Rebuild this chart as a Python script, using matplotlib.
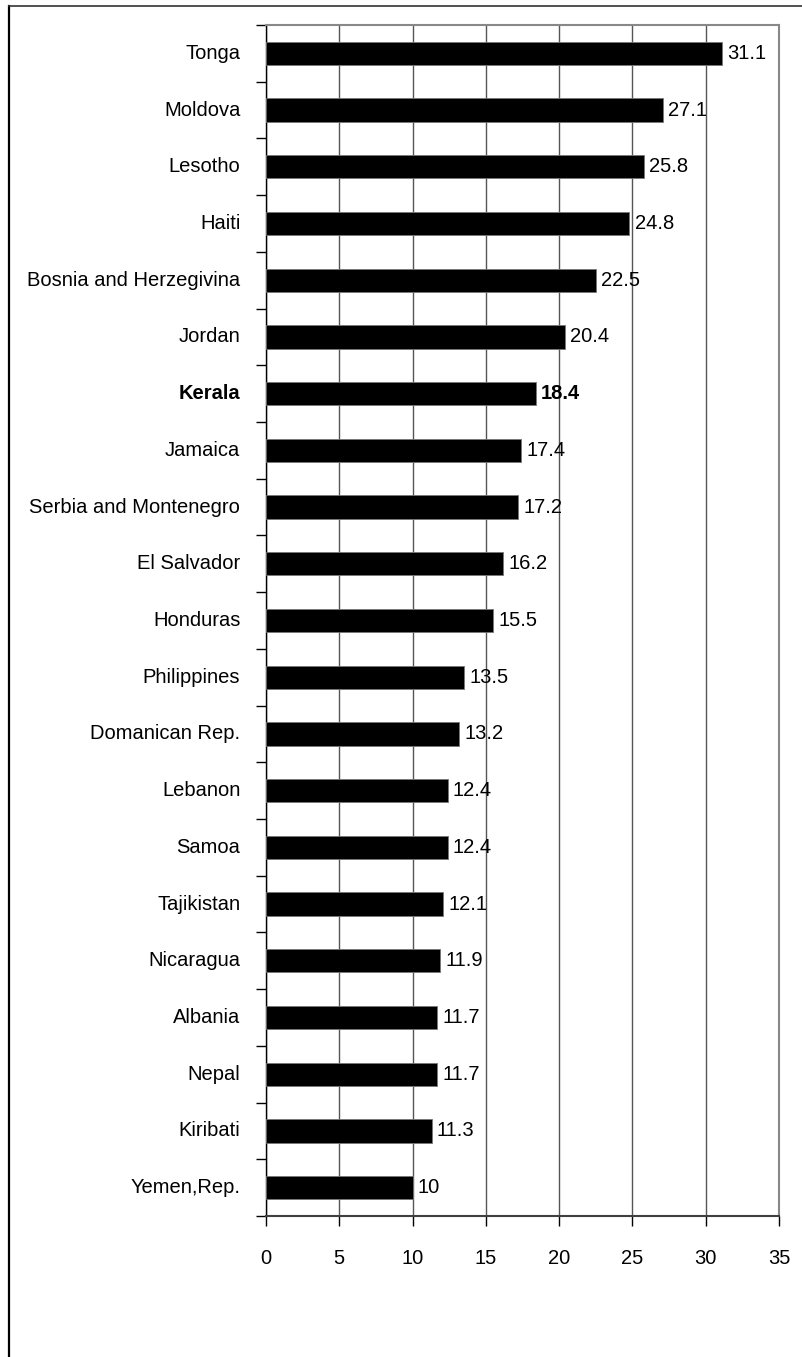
import matplotlib
matplotlib.use("Agg")
import matplotlib.pyplot as plt
from matplotlib.lines import Line2D

countries = [
    "Tonga", "Moldova", "Lesotho", "Haiti", "Bosnia and Herzegivina", "Jordan",
    "Kerala", "Jamaica", "Serbia and Montenegro", "El Salvador", "Honduras",
    "Philippines", "Domanican Rep.", "Lebanon", "Samoa", "Tajikistan",
    "Nicaragua", "Albania", "Nepal", "Kiribati", "Yemen,Rep.",
]
values = [
    31.1, 27.1, 25.8, 24.8, 22.5, 20.4, 18.4, 17.4, 17.2, 16.2, 15.5,
    13.5, 13.2, 12.4, 12.4, 12.1, 11.9, 11.7, 11.7, 11.3, 10,
]
value_labels = [
    "31.1", "27.1", "25.8", "24.8", "22.5", "20.4", "18.4", "17.4", "17.2",
    "16.2", "15.5", "13.5", "13.2", "12.4", "12.4", "12.1", "11.9", "11.7",
    "11.7", "11.3", "10",
]
highlight = "Kerala"
x_ticks = [0, 5, 10, 15, 20, 25, 30, 35]

plt.rcParams["font.family"] = ["Liberation Sans Narrow", "Liberation Sans", "DejaVu Sans"]

W, H = 802, 1357
fig = plt.figure(figsize=(W / 100, H / 100), dpi=100)

left, right, top, bottom = 266, 779, 25, 1216
ax = fig.add_axes([left / W, 1 - bottom / H, (right - left) / W, (bottom - top) / H])

n = len(countries)
ypos = list(range(n))
ax.barh(ypos, values, height=0.41, color="black", edgecolor="#777777",
        linewidth=0.6, zorder=3)

ax.set_xlim(0, 35)
ax.set_ylim(n - 0.5, -0.5)

ax.set_xticks(x_ticks)
ax.set_xticklabels([str(t) for t in x_ticks], fontsize=14.5)
ax.tick_params(axis="x", direction="out", length=7, width=1.0, color="black", pad=17)

# category boundaries carry the tick marks; labels sit at bar centres
ax.set_yticks([i + 0.5 for i in range(-1, n)])
ax.set_yticklabels([])
ax.tick_params(axis="y", direction="out", length=7, width=1.0, color="black")
for i, (c, v, lab) in enumerate(zip(countries, values, value_labels)):
    weight = "bold" if c == highlight else "normal"
    ax.text(-1.75, i, c, ha="right", va="center", fontsize=14.5,
            fontweight=weight, transform=ax.transData, clip_on=False)
    ax.text(v + 0.35, i, lab, ha="left", va="center", fontsize=14.5,
            fontweight=weight, zorder=4)

ax.xaxis.grid(True, color="#555555", linewidth=1.0, zorder=1)
ax.set_axisbelow(True)

ax.spines["top"].set_color("#888888")
ax.spines["right"].set_color("#888888")
ax.spines["top"].set_linewidth(1.5)
ax.spines["right"].set_linewidth(1.5)
ax.spines["left"].set_color("black")
ax.spines["left"].set_linewidth(1.0)
ax.spines["bottom"].set_color("#404040")
ax.spines["bottom"].set_linewidth(1.5)

# outer frame (left and top edges)
fig.add_artist(Line2D([8.5 / W, 8.5 / W], [0, 1 - 6 / H], color="black",
                      linewidth=1.6, transform=fig.transFigure))
fig.add_artist(Line2D([8.5 / W, 1], [1 - 6 / H, 1 - 6 / H], color="#333333",
                      linewidth=1.2, transform=fig.transFigure))

fig.savefig("out.png", dpi=100, facecolor="white")
